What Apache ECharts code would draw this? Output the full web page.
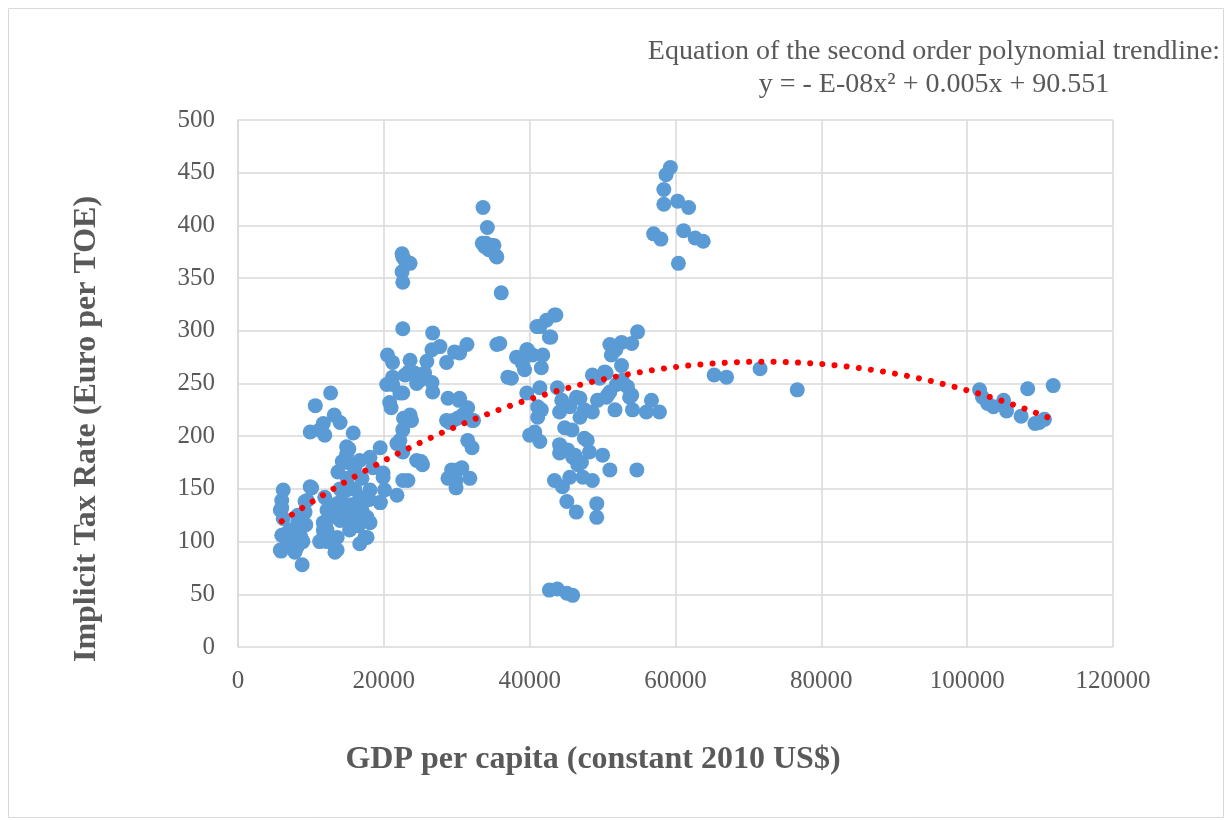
<!DOCTYPE html>
<html>
<head>
<meta charset="utf-8">
<script src="https://cdn.jsdelivr.net/npm/echarts@6/dist/echarts.min.js"></script>
<style>
  html, body { margin: 0; padding: 0; background: #fff; }
  #chart { width: 1227px; height: 821px; }
</style>
</head>
<body>
<div id="chart"></div>
<script>
// GDP per capita (constant 2010 US$) vs implicit tax rate (Euro per TOE)
const lowIncome = [
  [5900,91],[5800,92],[6000,106],[6000,132],[6000,139],[6200,149],[5800,130],[6200,122],
  [6700,108],[7100,111],[8100,108],[8200,118],[7800,90],[8100,95],[8800,78],[8900,100],
  [9200,128],[9200,138],[9500,139],[9900,152],[10100,151],[7100,100],[6700,102],[9300,116],
  [8600,105],[8200,125],[9900,204],[10600,229],[11700,212],[11900,201],[11200,206]
];
const midLowIncome = [
  [12700,241],[13200,220],[14000,213],[15800,203],[14900,190],[14300,176],[13700,166],[16700,177],
  [18100,180],[19500,189],[21800,193],[22600,185],[19900,165],[22600,158],[20100,149],[21800,144],
  [19500,137],[12200,130],[11900,142],[13600,136],[14200,139],[16700,142],[16300,127],[14000,120],
  [12200,111],[13600,104],[15300,111],[17700,104],[16700,98],[13300,90],[11700,104],[11200,100],
  [12200,120],[14900,149],[17700,123],[18100,118],[15800,118],[11700,118],[12200,104],[18100,149],
  [19500,137],[19900,161],[17400,104],[11700,111],[13600,92],[12200,100],[15000,160],[16000,150],
  [17000,160],[15500,135],[14500,128],[16500,115],[13000,125],[17500,140],[18500,170],[16000,170],
  [15000,175],[14000,150],[17000,130],[18000,140],[14900,183],[15200,188]
];
const midIncome = [
  [20800,232],[22600,241],[23300,218],[24500,177],[23300,158],[21200,249],[20500,277],[21200,270],
  [23600,272],[25900,271],[26600,282],[27700,285],[28600,270],[29700,280],[31400,287],[30400,279],
  [21200,256],[22900,258],[24200,260],[25600,260],[26600,251],[26700,242],[20400,249],[22200,241],
  [24500,250],[28800,236],[30400,236],[22600,302],[26700,298],[22500,373],[22900,367],[23600,364],
  [22500,356],[22600,346],[22600,370],[23600,220],[23800,215],[22200,196],[21900,193],[22600,206],
  [21000,227],[22700,217],[25100,176],[25300,173],[24700,258],[23800,261],[24900,253],[23400,261],
  [28600,215],[29000,213],[29500,215],[30100,217],[30300,234],[30800,220],[31500,227],[32100,215],
  [32300,215],[31500,196],[32100,189],[28800,160],[29300,168],[29900,151],[30100,168],[30700,170],
  [31800,160],[29900,158]
];
const upperMidIncome = [
  [33600,417],[34200,398],[33800,380],[34000,383],[34700,381],[35100,381],[35400,371],[35500,370],
  [36100,336],[35500,287],[35900,288],[33500,383],[34400,377],
  [37000,256],[38200,275],[39600,282],[41800,277],[41600,265],[39300,263],[37500,255],[41000,304],
  [42300,310],[43400,315],[42900,294],[39600,241],[41400,246],[43800,246],[46400,237],[39000,269],
  [39700,282],[43600,315],[41400,304],[42700,294],[40400,277],
  [41100,228],[41100,218],[40000,201],[41400,195],[44100,223],[45500,228],[46900,236],[48600,223],
  [46900,218],[44800,208],[45800,206],[44100,192],[44100,184],[45900,180],[47900,196],[48200,185],
  [50000,182],[47100,175],[51000,168],[54700,168],[43400,158],[44500,152],[45500,161],[47300,161],
  [48600,158],[45100,138],[46400,128],[49200,136],[49200,123],[42700,54],[43800,55],[45100,51],
  [45900,49],[40700,204],[41600,225],[46200,182],[45200,187],[47500,198],[46600,173],[44400,234],
  [47500,225],[49300,234]
];
const highIncome = [
  [51000,287],[52600,289],[54000,288],[54800,299],[48600,258],[50500,260],[52600,267],[52700,253],
  [51000,242],[50500,237],[54000,239],[51700,225],[54100,225],[56700,234],[56000,223],[57800,223],
  [51900,249],[53400,247],[51800,282],[52300,250],[50700,239],[53700,237],[50300,261],[51200,277],
  [49600,255],
  [59300,455],[58700,448],[58400,434],[58400,420],[60300,423],[61800,417],[57000,392],[58000,387],
  [61100,395],[62700,388],[63800,385],[60400,364],
  [65300,258],[67000,256],[71600,264],[76700,244]
];
const topIncome = [
  [101700,244],[102100,237],[103600,228],[102800,231],[105000,234],[105400,224],[107400,219],
  [108300,245],[109300,212],[110600,216],[109900,213],[111800,248]
];

// Second order polynomial trendline: y = a*x^2 + b*x + c
const trendCoef = [-3.47e-8, 0.005, 90.551];
const trendRange = [6000, 111000];

const points = [].concat(lowIncome, midLowIncome, midIncome, upperMidIncome, highIncome, topIncome);

const trend = [];
for (let x = trendRange[0]; x <= trendRange[1]; x += 500) {
  trend.push([x, trendCoef[0] * x * x + trendCoef[1] * x + trendCoef[2]]);
}

const xTicks = [0, 20000, 40000, 60000, 80000, 100000, 120000];
const yTicks = [0, 50, 100, 150, 200, 250, 300, 350, 400, 450, 500];

const serif = '"Liberation Serif", "Times New Roman", serif';
const chart = echarts.init(document.getElementById('chart'), null, { renderer: 'canvas' });

chart.setOption({
  animation: false,
  backgroundColor: '#fff',
  grid: { left: 238, right: 114, top: 120, bottom: 174, containLabel: false },
  xAxis: {
    type: 'value',
    min: xTicks[0], max: xTicks[xTicks.length - 1], interval: 20000,
    axisLine: { show: false },
    axisTick: { show: false },
    axisLabel: {
      color: '#595959', fontFamily: serif, fontSize: 25, margin: 22,
      formatter: v => String(v)
    },
    splitLine: { show: true, lineStyle: { color: '#d9d9d9', width: 1.5 } }
  },
  yAxis: {
    type: 'value',
    min: yTicks[0], max: yTicks[yTicks.length - 1], interval: 50,
    axisLine: { show: true, lineStyle: { color: '#d9d9d9', width: 1.5 } },
    axisTick: { show: false },
    axisLabel: {
      color: '#595959', fontFamily: serif, fontSize: 25, margin: 23,
      formatter: v => String(v)
    },
    splitLine: { show: true, lineStyle: { color: '#d9d9d9', width: 1.5 } }
  },
  series: [
    {
      type: 'scatter',
      data: points,
      symbol: 'circle',
      symbolSize: 15,
      itemStyle: { color: '#5B9BD5', opacity: 1 },
      z: 2
    },
    {
      type: 'line',
      data: trend,
      showSymbol: false,
      smooth: false,
      lineStyle: { color: '#ff0000', width: 6, type: [0.01, 12.2], cap: 'round' },
      z: 3
    }
  ],
  graphic: [
    {
      type: 'rect', left: 6, top: 6, z: -1,
      shape: { width: 1215, height: 809 },
      style: { fill: 'none', stroke: '#d9d9d9', lineWidth: 1 }
    },
    {
      type: 'text', x: 934, y: 52,
      style: {
        text: 'Equation of the second order polynomial trendline:',
        fill: '#595959', font: '28px ' + serif, align: 'center', verticalAlign: 'middle'
      }
    },
    {
      type: 'text', x: 934, y: 85,
      style: {
        text: 'y = - E-08x² + 0.005x + 90.551',
        fill: '#595959', font: '28px ' + serif, align: 'center', verticalAlign: 'middle'
      }
    },
    {
      type: 'text', x: 87, y: 429, rotation: Math.PI / 2,
      style: {
        text: 'Implicit Tax Rate (Euro per TOE)',
        fill: '#595959', font: 'bold 32px ' + serif, align: 'center', verticalAlign: 'middle'
      }
    },
    {
      type: 'text', x: 593, y: 760,
      style: {
        text: 'GDP per capita (constant 2010 US$)',
        fill: '#595959', font: 'bold 32px ' + serif, align: 'center', verticalAlign: 'middle'
      }
    }
  ]
});
</script>
</body>
</html>
